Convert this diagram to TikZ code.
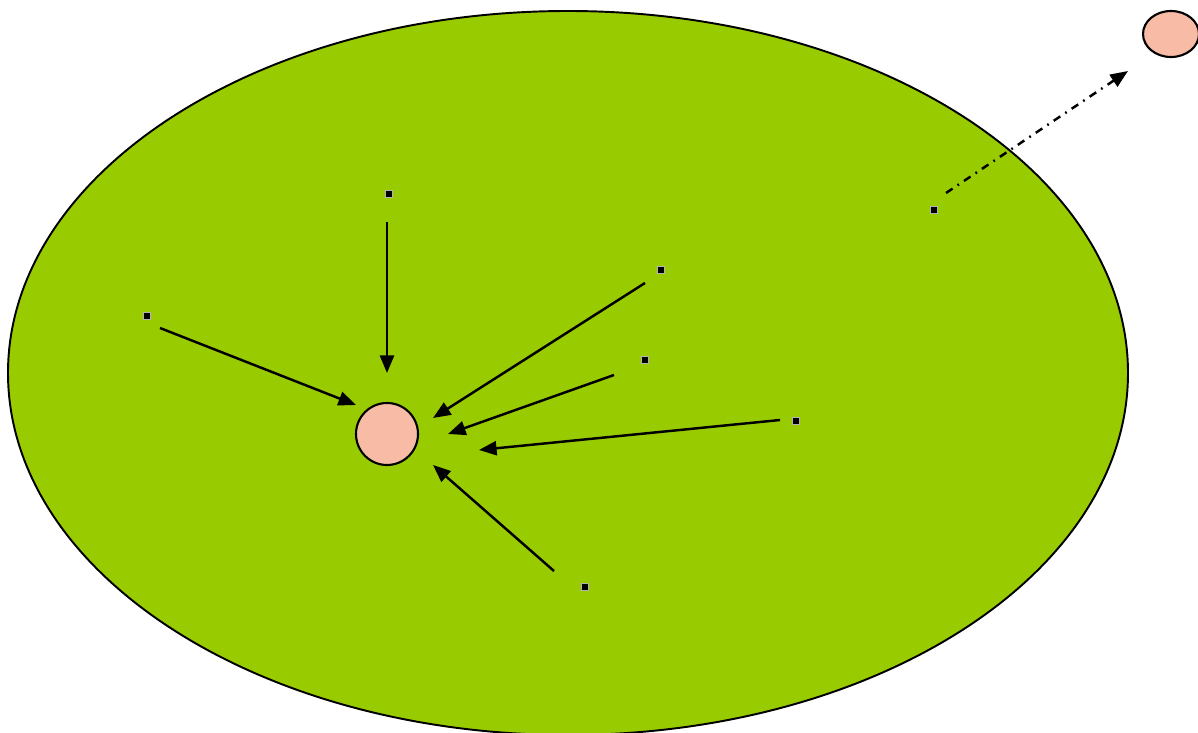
\documentclass[tikz,border=0pt]{standalone}
\usetikzlibrary{arrows.meta}
\definecolor{fieldgreen}{RGB}{153,204,0}
\definecolor{pinkbody}{RGB}{248,188,166}
\tikzset{
  px/.style={x=0.02cm,y=-0.02cm},
  pt/.style={fill=black,draw=gray!60,line width=0.6pt,minimum size=0.14cm,inner sep=0pt,outer sep=0pt,rectangle},
  pull/.style={line width=1.4pt,-{Triangle[length=10pt,width=8pt]}},
  escape/.style={line width=1.4pt,dash pattern=on 4.5pt off 3.4pt on 1pt off 3.4pt,-{Triangle[length=10pt,width=8pt]}},
  body/.style={fill=pinkbody,draw=black,line width=1.2pt}
}
\begin{document}
\begin{tikzpicture}[px]
\useasboundingbox (0,0) rectangle (1198,733);
\begin{scope}
\clip (0,0) rectangle (1198,733);
\fill[fieldgreen,draw=black,line width=1.1pt] (568,373) ellipse [x radius=560, y radius=362];
\end{scope}
\node[body,circle,minimum size=1.24cm,inner sep=0pt] (c) at (387,434) {};
\begin{scope}
\clip (0,0) rectangle (1198,733);
\filldraw[body] (1171,34) ellipse [x radius=28, y radius=23];
\end{scope}
\coordinate (o) at (1171,34);
% dots
\node[pt] (d1) at (389,194) {};
\node[pt] (d2) at (147,316) {};
\node[pt] (d3) at (661,270) {};
\node[pt] (d4) at (645,360) {};
\node[pt] (d5) at (796,421) {};
\node[pt] (d6) at (585,587) {};
\node[pt] (d7) at (934,210) {};
% arrow endpoints
\coordinate (s1) at (387,222); \coordinate (e1) at (387,373);
\coordinate (s2) at (160,328); \coordinate (e2) at (356,405);
\coordinate (s3) at (645,283); \coordinate (e3) at (433,418);
\coordinate (s4) at (614,375); \coordinate (e4) at (448,434);
\coordinate (s5) at (780,420); \coordinate (e5) at (479,450);
\coordinate (s6) at (554,571); \coordinate (e6) at (433,465);
\coordinate (s7) at (946,193); \coordinate (e7) at (1128,71);
\draw[pull] (s1) -- (e1);
\draw[pull] (s2) -- (e2);
\draw[pull] (s3) -- (e3);
\draw[pull] (s4) -- (e4);
\draw[pull] (s5) -- (e5);
\draw[pull] (s6) -- (e6);
\draw[escape] (s7) -- (e7);
\end{tikzpicture}
\end{document}
